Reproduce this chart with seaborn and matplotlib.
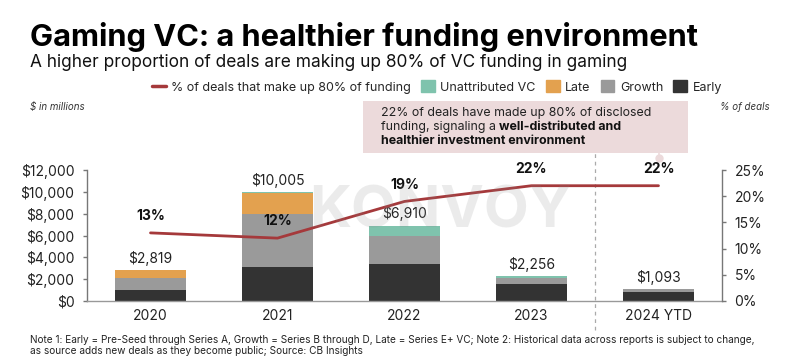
import matplotlib
matplotlib.use("Agg")
import matplotlib.pyplot as plt
import seaborn as sns
import numpy as np
import pandas as pd
from matplotlib.lines import Line2D
from matplotlib.patches import Patch, Rectangle
import matplotlib.transforms as mtransforms
from matplotlib.ticker import FuncFormatter, MultipleLocator

# ---------------- data ----------------
years = ["2020", "2021", "2022", "2023", "2024 YTD"]
early = [970, 3070, 3430, 1520, 820]
growth = [1100, 4860, 2560, 610, 273]
late = [749, 1920, 0, 0, 0]
unattributed = [0, 155, 920, 126, 0]
pct_deals = [13, 12, 19, 22, 22]

title = "Gaming VC: a healthier funding environment"
subtitle = "A higher proportion of deals are making up 80% of VC funding in gaming"
note1 = ("Note 1: Early = Pre-Seed through Series A, Growth = Series B through D, Late = Series E+ VC; "
         "Note 2: Historical data across reports is subject to change,")
note2 = "as source adds new deals as they become public; Source: CB Insights"

C_EARLY = "#333333"
C_GROWTH = "#9a9a9a"
C_LATE = "#e3a14f"
C_UNATTR = "#7fc3ad"
C_LINE = "#a5393b"
C_BOX = "#ecdadb"

sns.set_theme(style="white")
plt.rcParams["font.family"] = ["Inter", "DejaVu Sans"]

W, H = 799, 360
fig = plt.figure(figsize=(W / 100, H / 100), dpi=100)
fig.patch.set_facecolor("white")
ax = fig.add_axes([87 / W, 1 - 301 / H, (722 - 87) / W, 131 / H])

df = pd.DataFrame({"year": years, "early": early, "growth": growth,
                   "late": late, "unattributed": unattributed})
df["c1"] = df["early"]
df["c2"] = df["c1"] + df["growth"]
df["c3"] = df["c2"] + df["late"]
df["c4"] = df["c3"] + df["unattributed"]

for col, colr in [("c4", C_UNATTR), ("c3", C_LATE), ("c2", C_GROWTH), ("c1", C_EARLY)]:
    sns.barplot(data=df, x="year", y=col, color=colr, width=0.56, saturation=1,
                errorbar=None, linewidth=0, ax=ax, zorder=2)

ax.set_xlim(-0.5, 4.5)
ax.set_ylim(0, 12000)
ax.yaxis.set_major_locator(MultipleLocator(2000))
ax.yaxis.set_major_formatter(FuncFormatter(lambda v, p: f"${v:,.0f}"))
ax.set_xlabel("")
ax.set_ylabel("")
for s in ["top", "right"]:
    ax.spines[s].set_visible(False)
ax.spines["left"].set_color("#777777")
ax.spines["bottom"].set_color("#999999")
ax.spines["left"].set_linewidth(1)
ax.spines["bottom"].set_linewidth(1)
ax.tick_params(axis="y", which="major", left=True, length=3, width=1, color="#777777",
               labelsize=10, labelcolor="#222222", pad=6)
ax.tick_params(axis="x", length=0, labelsize=10, labelcolor="#222222", pad=6)
ax.grid(False)

# total labels
for i, tot in enumerate(df["c4"]):
    ax.annotate(f"${tot:,.0f}", (i, tot), xytext=(0, 3), textcoords="offset points",
                ha="center", va="bottom", fontsize=10, color="#222222", zorder=5)

# line on twin axis
ax2 = ax.twinx()
pos = np.arange(len(years))
sns.lineplot(x=pos, y=np.array(pct_deals) / 100, ax=ax2, color=C_LINE, linewidth=2, zorder=4)
ax2.set_ylim(0, 0.25)
ax2.set_xlim(-0.5, 4.5)
ax2.yaxis.set_major_locator(MultipleLocator(0.05))
ax2.yaxis.set_major_formatter(FuncFormatter(lambda v, p: f"{v*100:.0f}%"))
for s in ["top", "left", "bottom"]:
    ax2.spines[s].set_visible(False)
ax2.spines["right"].set_color("#777777")
ax2.spines["right"].set_linewidth(1)
ax2.tick_params(axis="y", right=True, length=3, width=1, color="#777777",
                labelsize=10, labelcolor="#222222", pad=6)
ax2.set_ylabel("")
ax2.grid(False)
for i, p in enumerate(pct_deals):
    ax2.annotate(f"{p}%", (i, p / 100), xytext=(0, 7), textcoords="offset points",
                 ha="center", va="bottom", fontsize=10, fontweight="bold", color="#111111", zorder=6)

# watermark
fig.text(440 / W, 1 - 212 / H, "KONVOY", ha="center", va="center", fontsize=42,
         fontweight="bold", color="#888888", alpha=0.16, zorder=10)

# dashed separator
trans = mtransforms.blended_transform_factory(ax.transData, ax.transAxes)
ax.plot([3.5, 3.5], [(301 - 330) / 131, (301 - 153) / 131], transform=trans,
        ls=(0, (3, 3)), color="#aaaaaa", lw=0.9, clip_on=False, zorder=1)

# annotation box
fig.patches.append(Rectangle((363 / W, 1 - 153 / H), (688 - 363) / W, (153 - 101) / H,
                             transform=fig.transFigure, facecolor=C_BOX, edgecolor="none", zorder=0))
ax.plot([4, 4], [(301 - 153) / 131, (301 - 158) / 131], transform=trans, color=C_BOX,
        lw=1.2, clip_on=False, zorder=1)
ax.plot([4], [(301 - 158) / 131], transform=trans, marker="o", ms=5, color=C_BOX,
        clip_on=False, zorder=1)

renderer = fig.canvas.get_renderer()


def fit(t, target):
    for _ in range(3):
        bb = t.get_window_extent(renderer)
        t.set_fontsize(t.get_fontsize() * target / bb.width)


box_fs = 9
l1 = fig.text(381 / W, 1 - 113 / H, "22% of deals have made up 80% of disclosed", fontsize=box_fs,
              va="center", ha="left", color="#222222")
fit(l1, 270)
box_fs = l1.get_fontsize()
l2a = fig.text(381 / W, 1 - 127 / H, "funding, signaling a ", fontsize=box_fs, va="center",
               ha="left", color="#222222")
bb = l2a.get_window_extent(renderer)
fig.text(bb.x1 / W, 1 - 127 / H, "well-distributed and", fontsize=box_fs, va="center",
         ha="left", color="#111111", fontweight="bold")
fig.text(381 / W, 1 - 141 / H, "healthier investment environment", fontsize=box_fs, va="center",
         ha="left", color="#111111", fontweight="bold")

# titles
t = fig.text(30 / W, 1 - 46 / H, title, fontsize=22, fontweight="bold", color="#000000",
             ha="left", va="baseline")
fit(t, 668)
st = fig.text(30 / W, 1 - 67 / H, subtitle, fontsize=13, color="#111111", ha="left", va="baseline")
fit(st, 597)

fig.text(30 / W, 1 - 107 / H, "$ in millions", fontsize=7, style="italic", color="#333333",
         ha="left", va="center")
fig.text(745 / W, 1 - 107 / H, "% of deals", fontsize=7, style="italic", color="#333333",
         ha="center", va="center")

# legend
handles = [Line2D([0], [0], color=C_LINE, lw=2.5),
           Patch(color=C_UNATTR), Patch(color=C_LATE), Patch(color=C_GROWTH), Patch(color=C_EARLY)]
labels = ["% of deals that make up 80% of funding", "Unattributed VC", "Late", "Growth", "Early"]
fig.legend(handles, labels, loc="center", bbox_to_anchor=(437 / W, 1 - 87 / H), ncol=5,
           frameon=False, fontsize=9, handlelength=1.1, handleheight=1.1, columnspacing=0.8,
           handletextpad=0.45, borderaxespad=0)

# footnotes
n1 = fig.text(30 / W, 1 - 340 / H, note1, fontsize=7, color="#222222", ha="left", va="center")
fit(n1, 724)
fig.text(30 / W, 1 - 351 / H, note2, fontsize=n1.get_fontsize(), color="#222222", ha="left",
         va="center")

fig.savefig("out.png", dpi=100, facecolor="white")
